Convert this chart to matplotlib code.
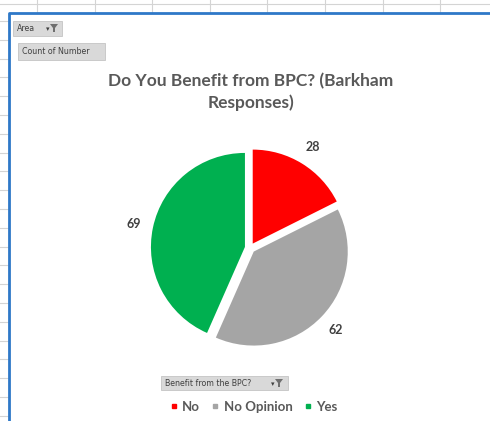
import numpy as np
import matplotlib.pyplot as plt
from matplotlib.lines import Line2D
from matplotlib.patches import Polygon, Rectangle

# datos del grafico
categorias = ["No", "No Opinion", "Yes"]
valores = [28, 62, 69]
colores = ["#FF0000", "#A5A5A5", "#00B050"]
titulo = "Do You Benefit from BPC? (Barkham\nResponses)"

W, H = 490, 421
fig = plt.figure(figsize=(W / 100, H / 100), dpi=100)
fig.patch.set_facecolor("white")

def fx(px):
    return px / W

def fy(py):
    return 1 - py / H

# rejilla de la hoja de calculo (fuera del grafico)
for x in np.arange(37, W, 57.6):
    fig.add_artist(Line2D([fx(x), fx(x)], [fy(0), fy(12)], color="#D4D4D4", lw=0.8))
fig.add_artist(Line2D([0, 1], [fy(4), fy(4)], color="#D4D4D4", lw=0.8))
for y in np.arange(21, H, 18.8):
    fig.add_artist(Line2D([0, fx(8)], [fy(y), fy(y)], color="#D4D4D4", lw=0.8))

# borde azul del area del grafico
fig.add_artist(Line2D([fx(9), fx(9), 1], [0, fy(13), fy(13)], color="#2E78C8", lw=2))

# botones del pivot
def boton(x0, y0, x1, y1, texto, filtro=None):
    fig.add_artist(Rectangle((fx(x0), fy(y1)), fx(x1 - x0), (y1 - y0) / H, fc="#D9D9D9",
                             ec="#C4C4C4", lw=0.6, transform=fig.transFigure))
    fig.text(fx(x0 + 4), fy((y0 + y1) / 2), texto, fontsize=5.7, color="#404040", va="center")
    if filtro is not None:
        cx, cy = filtro
        fig.text(fx(cx - 6), fy(cy + 1), "\u25BE", fontsize=5, color="#404040", va="center", ha="center")
        pts = [(cx - 4, cy - 4), (cx + 4, cy - 4), (cx + 1, cy), (cx + 1, cy + 4),
               (cx - 1, cy + 4), (cx - 1, cy)]
        fig.add_artist(Polygon([(fx(a), fy(b)) for a, b in pts], closed=True, fc="#6F6F6F",
                               ec="none", transform=fig.transFigure))

boton(13, 21, 62, 36, "Area", filtro=(54, 28))
boton(18, 43, 105, 60, "Count of Number")
boton(161, 376, 288, 390, "Benefit from the BPC?", filtro=(279, 383))

# titulo
fig.text(fx(251), fy(92), titulo, ha="center", va="center", fontsize=12.5, fontweight="bold",
         color="#595959", family="Lato", linespacing=1.45)

# pastel
R = 94
cx, cy = 250, 248
lim = 1.3
ax = fig.add_axes([fx(cx - lim * R), fy(cy + lim * R), 2 * lim * R / W, 2 * lim * R / H])
ax.pie(valores, colors=colores, startangle=90, counterclock=False,
       explode=[0.055] * 3, labels=[str(v) for v in valores], labeldistance=1.21,
       wedgeprops=dict(linewidth=0),
       textprops=dict(ha="center", va="center", fontsize=9, fontweight="bold", color="#404040",
                      family="Lato"))
ax.set_xlim(-lim, lim)
ax.set_ylim(-lim, lim)
ax.set_aspect("equal")
ax.axis("off")

# leyenda
handles = [Line2D([], [], marker="s", ls="", markersize=3.5, color=c) for c in colores]
leg = fig.legend(handles, categorias, loc="center", bbox_to_anchor=(fx(254), fy(407)), ncol=3,
                 frameon=False, handlelength=0.5, handletextpad=0.4, columnspacing=0.9,
                 prop=dict(family="Lato", weight="bold", size=9.5))
for t in leg.get_texts():
    t.set_color("#595959")

fig.savefig("out.png", dpi=100)
